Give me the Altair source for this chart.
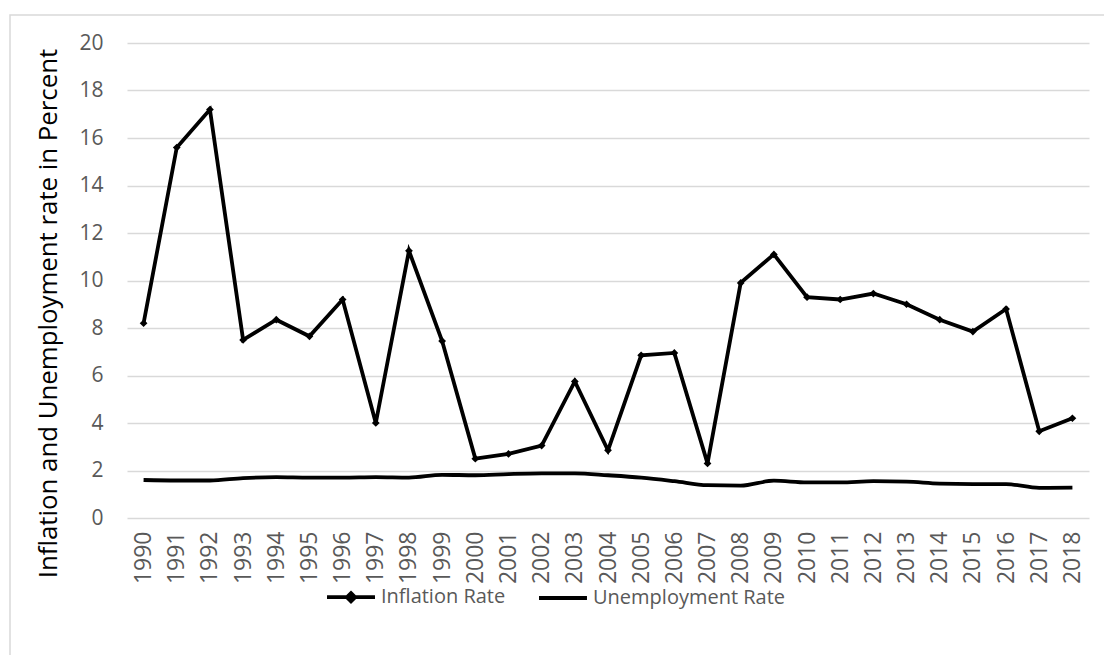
import altair as alt
import pandas as pd

years = [str(y) for y in range(1990, 2019)]
inflation = [8.2, 15.6, 17.2, 7.5, 8.35, 7.65, 9.2, 4.0, 11.25, 7.45,
             2.5, 2.7, 3.05, 5.75, 2.85, 6.85, 6.95, 2.3, 9.9, 11.1,
             9.3, 9.2, 9.45, 9.0, 8.35, 7.85, 8.8, 3.65, 4.2]
unemployment = [1.6, 1.58, 1.58, 1.68, 1.72, 1.7, 1.7, 1.72, 1.7, 1.82,
                1.8, 1.85, 1.88, 1.88, 1.8, 1.7, 1.55, 1.38, 1.36, 1.57,
                1.5, 1.5, 1.55, 1.53, 1.45, 1.43, 1.43, 1.27, 1.28]
series_names = ["Inflation Rate", "Unemployment Rate"]

df_inf = pd.DataFrame({"Year": years, "Value": inflation, "Series": series_names[0]})
df_unemp = pd.DataFrame({"Year": years, "Value": unemployment, "Series": series_names[1]})
df_all = pd.concat([df_inf, df_unemp])

FONT = "Open Sans"
x_enc = alt.X("Year:O", scale=alt.Scale(paddingOuter=0.5, paddingInner=0),
              axis=alt.Axis(title=None, labelAngle=-90, labelPadding=13, labelFontSize=23,
                            ticks=False, domain=False))
y_enc = alt.Y("Value:Q", scale=alt.Scale(domain=[0, 20]),
              axis=alt.Axis(title="Inflation and Unemployment rate in Percent",
                            values=list(range(0, 21, 2)), titlePadding=17, titleY=270,
                            labelPadding=24, ticks=False, domain=False, grid=True))

border = alt.Chart(pd.DataFrame({"a": [0]})).mark_rect(
    fill=None, stroke="#d9d9d9", strokeWidth=1.5
).encode(x=alt.value(-117), x2=alt.value(1000), y=alt.value(-28), y2=alt.value(640))

inf_line = alt.Chart(df_inf).mark_line(color="black", strokeWidth=3.8).encode(x=x_enc, y=y_enc)
inf_pts = alt.Chart(df_inf).mark_point(shape="diamond", filled=True, color="black",
                                        size=60, opacity=1).encode(x=x_enc, y=y_enc)
unemp_line = alt.Chart(df_unemp).mark_line(color="black", strokeWidth=3.8,
                                           interpolate="monotone").encode(x=x_enc, y=y_enc)

diamond_path = "M-1,0L1,0M0,-0.17L0.17,0L0,0.17L-0.17,0Z"
line_path = "M-1,0L1,0"
legend_layer = alt.Chart(df_all).mark_point(
    filled=False, opacity=0, size=2300, color="black", strokeWidth=3.8
).encode(
    x=x_enc, y=y_enc,
    shape=alt.Shape("Series:N",
                    scale=alt.Scale(domain=series_names, range=[diamond_path, line_path]),
                    legend=alt.Legend(title=None, orient="none", direction="horizontal",
                                      legendX=198, legendY=528,
                                      symbolSize=2300, symbolStrokeWidth=3.8,
                                      symbolStrokeColor="black",
                                      symbolOpacity=1, columnPadding=25,
                                      labelOffset=4, labelLimit=400))
)

chart = alt.layer(border, inf_line, unemp_line, inf_pts, legend_layer).properties(
    width=962, height=475,
    padding={"left": 127, "top": 43, "right": 15, "bottom": 137},
    autosize=alt.AutoSizeParams(type="none"),
    background="white",
).configure_view(stroke=None).configure_axis(
    labelFont=FONT, labelFontSize=21, labelColor="#595959",
    titleFont=FONT, titleFontSize=25.8, titleFontWeight="normal", titleColor="black",
    gridColor="#d9d9d9", gridWidth=1.5,
).configure_legend(
    labelFont=FONT, labelFontSize=20, labelColor="#595959",
)

chart.save("out.html", embed_options={"renderer": "svg", "actions": False})
